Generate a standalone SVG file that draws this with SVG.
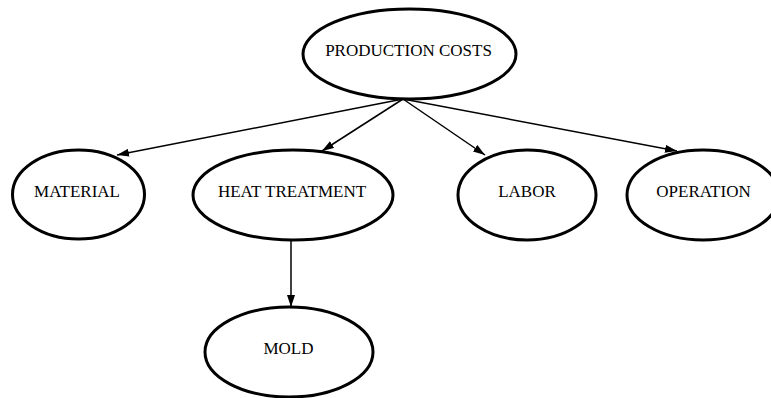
<svg xmlns="http://www.w3.org/2000/svg" width="771" height="398" viewBox="0 0 771 398">
<style>
.node ellipse{fill:#fff;stroke:#000;stroke-width:3}
.node text{font-family:'Liberation Serif','Times New Roman',serif;font-size:17px;fill:#000;text-anchor:middle}
.edges line{stroke:#000;stroke-width:1.5}
</style>
<defs>
<marker id="arr" viewBox="0 0 12 8" refX="12" refY="4" markerWidth="12" markerHeight="8" markerUnits="userSpaceOnUse" orient="auto">
<path d="M0,0 L12,4 L0,8 z" fill="#000"/>
</marker>
</defs>
<rect width="771" height="398" fill="#fff"/>
<g class="edges" id="connectors">
<line x1="403" y1="99" x2="117" y2="155" marker-end="url(#arr)"/>
<line x1="403" y1="99" x2="322" y2="151" marker-end="url(#arr)"/>
<line x1="403" y1="99" x2="485" y2="155" marker-end="url(#arr)"/>
<line x1="403" y1="99" x2="677" y2="151" marker-end="url(#arr)"/>
<line x1="291" y1="240" x2="291" y2="307" marker-end="url(#arr)"/>
</g>
<g class="node" id="production-costs"><ellipse cx="409.5" cy="54" rx="106.5" ry="45"/><text x="408.5" y="56">PRODUCTION COSTS</text></g>
<g class="node" id="material"><ellipse cx="78.5" cy="194.5" rx="66" ry="44.5"/><text x="77" y="197">MATERIAL</text></g>
<g class="node" id="heat-treatment"><ellipse cx="293" cy="195" rx="100" ry="45"/><text x="292" y="197">HEAT TREATMENT</text></g>
<g class="node" id="labor"><ellipse cx="527" cy="195" rx="69" ry="45"/><text x="527" y="197">LABOR</text></g>
<g class="node" id="operation"><ellipse cx="703" cy="195" rx="76" ry="45"/><text x="703.5" y="197">OPERATION</text></g>
<g class="node" id="mold"><ellipse cx="289" cy="352" rx="84" ry="45"/><text x="288.5" y="354">MOLD</text></g>
</svg>
